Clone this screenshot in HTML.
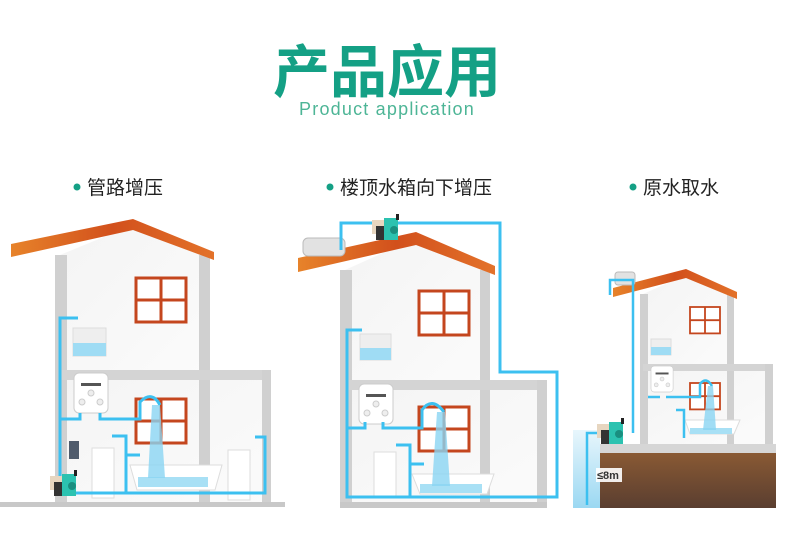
<!DOCTYPE html>
<html><head><meta charset="utf-8"><style>
html,body{margin:0;padding:0;background:#fff}
svg{display:block}
text{font-family:"Liberation Sans","Noto Sans CJK SC",sans-serif}
</style></head><body>
<svg width="790" height="548" viewBox="0 0 790 548" xmlns="http://www.w3.org/2000/svg">
<defs>
<linearGradient id="wall" x1="0" y1="0" x2="1" y2="1"><stop offset="0" stop-color="#f4f4f4"/><stop offset="1" stop-color="#fbfbfb"/></linearGradient>
<linearGradient id="roof" x1="0" y1="0" x2="1" y2="0"><stop offset="0" stop-color="#e7832a"/><stop offset="0.5" stop-color="#d2501c"/><stop offset="1" stop-color="#e3722a"/></linearGradient>
<linearGradient id="soil" x1="0" y1="0" x2="0" y2="1"><stop offset="0" stop-color="#8a5a34"/><stop offset="1" stop-color="#5a3e30"/></linearGradient>
<linearGradient id="well" x1="0" y1="0" x2="0" y2="1"><stop offset="0" stop-color="#e8f6fc"/><stop offset="1" stop-color="#9bd8f2"/></linearGradient>
<g id="win"><rect x="0" y="0" width="50" height="44" fill="#fff" stroke="#c4461e" stroke-width="3"/><line x1="25" y1="0" x2="25" y2="44" stroke="#c4461e" stroke-width="3"/><line x1="0" y1="22" x2="50" y2="22" stroke="#c4461e" stroke-width="3"/></g>
<g id="heater"><rect x="0" y="0" width="34" height="40" rx="5" fill="#fff" stroke="#ccc"/><rect x="7" y="10" width="20" height="3" fill="#555"/><circle cx="17" cy="20" r="3" fill="#eee" stroke="#ccc"/><circle cx="8" cy="29" r="3" fill="#eee" stroke="#ccc"/><circle cx="26" cy="29" r="3" fill="#eee" stroke="#ccc"/></g>
<g id="pump"><rect x="0" y="6" width="14" height="14" fill="#e7d6c0"/><rect x="4" y="12" width="12" height="14" fill="#333"/><rect x="12" y="4" width="14" height="22" fill="#2cc2b0"/><rect x="24" y="0" width="3" height="6" fill="#222"/><circle cx="22" cy="16" r="4" fill="#1a8f80"/></g>
</defs>

<!-- Title -->
<text x="387" y="92" text-anchor="middle" font-size="57" font-weight="bold" fill="#14a085" font-family="'Noto Sans CJK SC',sans-serif">产品应用</text>
<text x="387" y="115" text-anchor="middle" font-size="18" fill="#4db596" letter-spacing="1.2">Product application</text>

<!-- Section labels -->
<circle cx="77" cy="187" r="3.5" fill="#14a085"/>
<text x="87" y="194" font-size="19" fill="#222">管路增压</text>
<circle cx="330" cy="187" r="3.5" fill="#14a085"/>
<text x="340" y="194" font-size="19" fill="#222">楼顶水箱向下增压</text>
<circle cx="633" cy="187" r="3.5" fill="#14a085"/>
<text x="643" y="194" font-size="19" fill="#222">原水取水</text>

<!-- ============ House 1 ============ -->
<g>
<polygon points="60,255 133,225 205,255 205,375 60,375" fill="url(#wall)"/>
<rect x="60" y="375" width="208" height="128" fill="url(#wall)"/>
<rect x="55" y="255" width="12" height="250" fill="#d0d0d0"/>
<rect x="199" y="255" width="11" height="250" fill="#d0d0d0"/>
<rect x="60" y="370" width="210" height="10" fill="#d4d4d4"/>
<rect x="262" y="370" width="9" height="135" fill="#d0d0d0"/>
<rect x="0" y="502" width="285" height="5" fill="#c8c8c8"/>
<polygon points="11,244 133,219 214,252 214,260 133,230 11,257" fill="url(#roof)"/>
<use href="#win" x="136" y="278"/>
<use href="#win" x="136" y="399"/>
<rect x="73" y="328" width="33" height="28" fill="#eee" stroke="#ddd"/>
<rect x="73" y="343" width="33" height="13" fill="#9fdcf4"/>
<rect x="92" y="448" width="22" height="50" fill="#fff" stroke="#ddd"/>
<rect x="228" y="450" width="22" height="50" fill="#fff" stroke="#ddd"/>
<path d="M130,465 L222,465 L215,490 L137,490 Z" fill="#fff" stroke="#ddd"/>
<rect x="138" y="477" width="70" height="10" fill="#a8e0f5"/>
<use href="#heater" x="74" y="373"/>
<g fill="none" stroke="#3cc0f0" stroke-width="3">
<path d="M60,493 L60,318 L78,318"/>
<path d="M60,419 L80,419 L80,413"/>
<path d="M100,413 L100,419 L140,419 L140,402 Q152,390 160,405"/>
<path d="M75,493 L265,493 L265,437 L255,437"/>
<path d="M126,493 L126,436 L112,436"/>
<path d="M126,455 L140,455"/>
</g>
<path d="M152,405 L160,405 L165,478 L148,478 Z" fill="#8ad4f2" opacity="0.8"/>
<rect x="69" y="441" width="10" height="18" fill="#26354a" opacity="0.8"/>
<use href="#pump" x="50" y="470"/>
</g>

<!-- ============ House 2 ============ -->
<g>
<polygon points="345,270 416,238 486,270 486,386 345,386" fill="url(#wall)"/>
<rect x="345" y="386" width="198" height="118" fill="url(#wall)"/>
<rect x="340" y="270" width="12" height="237" fill="#d0d0d0"/>
<rect x="480" y="270" width="10" height="237" fill="#d0d0d0"/>
<rect x="345" y="380" width="202" height="10" fill="#d4d4d4"/>
<rect x="537" y="380" width="10" height="127" fill="#d0d0d0"/>
<rect x="340" y="502" width="207" height="6" fill="#c8c8c8"/>
<polygon points="298,258 416,232 495,266 495,275 416,245 298,272" fill="url(#roof)"/>
<use href="#win" x="419" y="291"/>
<use href="#win" x="419" y="407"/>
<rect x="303" y="238" width="42" height="18" rx="5" fill="#e2e2e2" stroke="#bbb"/>
<rect x="360" y="334" width="31" height="26" fill="#eee" stroke="#ddd"/>
<rect x="360" y="348" width="31" height="12" fill="#9fdcf4"/>
<rect x="374" y="452" width="22" height="46" fill="#fff" stroke="#ddd"/>
<path d="M412,474 L494,474 L487,494 L420,494 Z" fill="#fff" stroke="#ddd"/>
<rect x="420" y="484" width="62" height="9" fill="#a8e0f5"/>
<use href="#heater" x="359" y="384"/>
<g fill="none" stroke="#3cc0f0" stroke-width="3">
<path d="M341,250 L341,223 L500,223 L500,372 L557,372 L557,497 L347,497 L347,330 L362,330"/>
<path d="M347,428 L365,428 L365,422"/>
<path d="M383,422 L383,428 L422,428 L422,410 Q432,396 444,412"/>
<path d="M410,497 L410,445 L396,445"/>
<path d="M410,464 L424,464"/>
</g>
<path d="M437,412 L445,412 L450,486 L432,486 Z" fill="#8ad4f2" opacity="0.8"/>
<use href="#pump" x="372" y="214"/>
</g>

<!-- ============ House 3 ============ -->
<g>
<rect x="573" y="430" width="27" height="78" fill="url(#well)"/>
<rect x="600" y="452" width="176" height="56" fill="url(#soil)"/>
<rect x="600" y="444" width="176" height="9" fill="#d6d6d6"/>
<polygon points="643,294 686,275 731,294 731,368 643,368" fill="url(#wall)"/>
<rect x="643" y="368" width="127" height="76" fill="url(#wall)"/>
<rect x="640" y="294" width="8" height="150" fill="#d0d0d0"/>
<rect x="727" y="294" width="7" height="150" fill="#d0d0d0"/>
<rect x="643" y="364" width="130" height="7" fill="#d4d4d4"/>
<rect x="765" y="364" width="8" height="80" fill="#d0d0d0"/>
<polygon points="613,288 686,269 737,292 737,299 686,278 613,297" fill="url(#roof)"/>
<use href="#win" x="690" y="307" transform="translate(690,307) scale(0.6) translate(-690,-307)"/>
<use href="#win" x="690" y="383" transform="translate(690,383) scale(0.6) translate(-690,-383)"/>
<rect x="615" y="272" width="20" height="13" rx="3" fill="#e2e2e2" stroke="#bbb"/>
<rect x="651" y="339" width="20" height="16" fill="#eee" stroke="#ddd"/>
<rect x="651" y="347" width="20" height="8" fill="#9fdcf4"/>
<use href="#heater" x="651" y="366" transform="translate(651,366) scale(0.65) translate(-651,-366)"/>
<path d="M685,420 L740,420 L734,434 L690,434 Z" fill="#fff" stroke="#ddd"/>
<rect x="690" y="428" width="42" height="6" fill="#a8e0f5"/>
<g fill="none" stroke="#3cc0f0" stroke-width="2.5">
<path d="M610,295 L610,280 L633,280 L633,302 L633,433"/>
<path d="M587,505 L587,433 L600,433"/>
<path d="M648,397 L660,397"/>
<path d="M666,397 L700,397 L700,384 Q706,376 712,386"/>
<path d="M684,438 L684,410 L676,410"/>
</g>
<path d="M708,386 L713,386 L716,430 L703,430 Z" fill="#8ad4f2" opacity="0.8"/>
<use href="#pump" x="597" y="418"/>
<rect x="596" y="468" width="26" height="14" fill="#fff" opacity="0.9"/>
<text x="597" y="479" font-size="11" fill="#333" font-weight="bold">≤8m</text>
</g>
</svg>
</body></html>
